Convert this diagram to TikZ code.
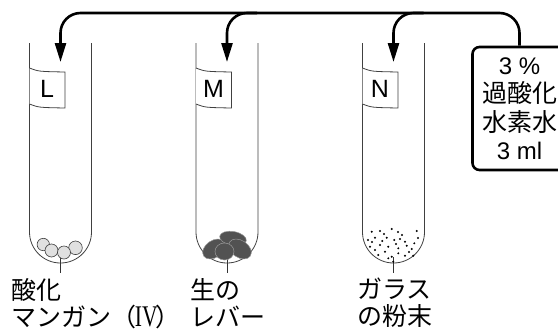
\documentclass[tikz,border=0pt]{standalone}
\usepackage{fontspec}
\setmainfont{Liberation Sans}
\newfontfamily\jpfont{Noto Sans CJK JP}
\newfontfamily\numfont{Liberation Serif}
\usetikzlibrary{arrows.meta}

\tikzset{
  tube/.style={line width=0.8pt, black!75},
  feed/.style={line width=2.6pt, rounded corners=20pt, -{Triangle[length=19pt,width=11pt]}},
  srcbox/.style={draw, line width=2.6pt, rounded corners=7pt, minimum width=94pt,
    minimum height=123pt, inner sep=0pt, align=center, font=\fontsize{24}{28.5}\selectfont},
  sticker/.style={inner sep=0pt, font=\fontsize{25}{25}\selectfont},
  leader/.style={line width=0.7pt, black!80},
  substance/.style={anchor=north west, align=left, inner sep=0pt,
    font=\jpfont\fontsize{25}{27}\selectfont},
  grain/.style={line width=0.6pt, draw=black!75, fill=black!12},
  liver/.style={line width=0.5pt, draw=black!40, fill=black!68},
}

\begin{document}
\begin{tikzpicture}[x=1pt, y=-1pt]
  \useasboundingbox (0,0) rectangle (558,333);
  \clip (0,0) rectangle (558,333);

  % Supply of hydrogen peroxide
  \node[srcbox] (src) at (519.5,108.5)
    {3 \%\\{\jpfont\fontsize{25}{28.5}\selectfont 過酸化}\\{\jpfont\fontsize{25}{28.5}\selectfont 水素水}\\3 ml};
  \coordinate (bus) at (519.5,13);

  % Test tubes with stickers
  \foreach \c/\n in {60.5/L, 227/M, 393.5/N} {
    \draw[tube] (\c-31,43) -- (\c-31,232) arc[start angle=180, end angle=0, radius=31] -- (\c+31,43);
    \draw[tube, fill=white] (\c-31,68) .. controls (\c-22,71.5) .. (\c+4.5,72)
      -- (\c+4.5,108) .. controls (\c-22,107.5) .. (\c-31,104);
    \node[sticker] (lab\n) at (\c-13.5,89) {\n};
    \coordinate (in\n) at (\c,62);
    \draw[leader] (\c,257) -- (\c,273);
  }

  % Pouring lines
  \draw[feed] (src.north) -- (bus) -- (inL |- bus) -- (inL);
  \draw[feed] (inM |- bus) ++(30,0) -- (inM |- bus) -- (inM);
  \draw[feed] (inN |- bus) ++(30,0) -- (inN |- bus) -- (inN);

  % Manganese dioxide grains
  \foreach \x/\y/\r in {43.3/244.5/6.2, 51.5/250.5/6.5, 75.5/247.8/6.8, 64/252.5/6.5}
    \draw[grain] (\x,\y) circle (\r);

  % Liver pieces
  \draw[liver, rotate around={35:(214,249)}] (214,249) ellipse (12.5 and 8.5);
  \draw[liver, rotate around={-10:(233,238.5)}] (233,238.5) ellipse (13.5 and 7);
  \draw[liver, rotate around={-35:(240,249)}] (240,249) ellipse (12.5 and 8.5);
  \draw[liver] (224.5,251.5) ellipse (9.5 and 8.5);

  % Glass powder
  \foreach \x/\y in {371.7/231.7, 380/231, 391.7/229, 398/232, 416.7/231, 375/237.7,
      386.7/237.7, 394.3/240, 400/239, 405/241.7, 414.3/243.3, 382.3/241, 370/246.7,
      380/245, 388.3/246.7, 398.3/248.3, 406.7/245.7, 411.7/249, 375/250, 385/251.7,
      378.3/255, 391.7/256.7, 398.3/253.3, 405/255.7, 413.3/255.7, 388.3/258.3,
      393.3/261.7, 368/240, 418/238, 402/235, 384/234, 409/252, 396/244, 372/242}
    \fill (\x,\y) circle (1.1);

  % Names of the substances
  \node[substance] (nameL) at (11.7,278)
    {酸化\\マンガン（\kern-2pt\scalebox{0.72}[1]{\numfont\fontsize{30}{27}\selectfont IV}\kern-2pt）};
  \node[substance] (nameM) at (190,278) {生の\\レバー};
  \node[substance] (nameN) at (357,278) {ガラス\\の粉末};
\end{tikzpicture}
\end{document}
